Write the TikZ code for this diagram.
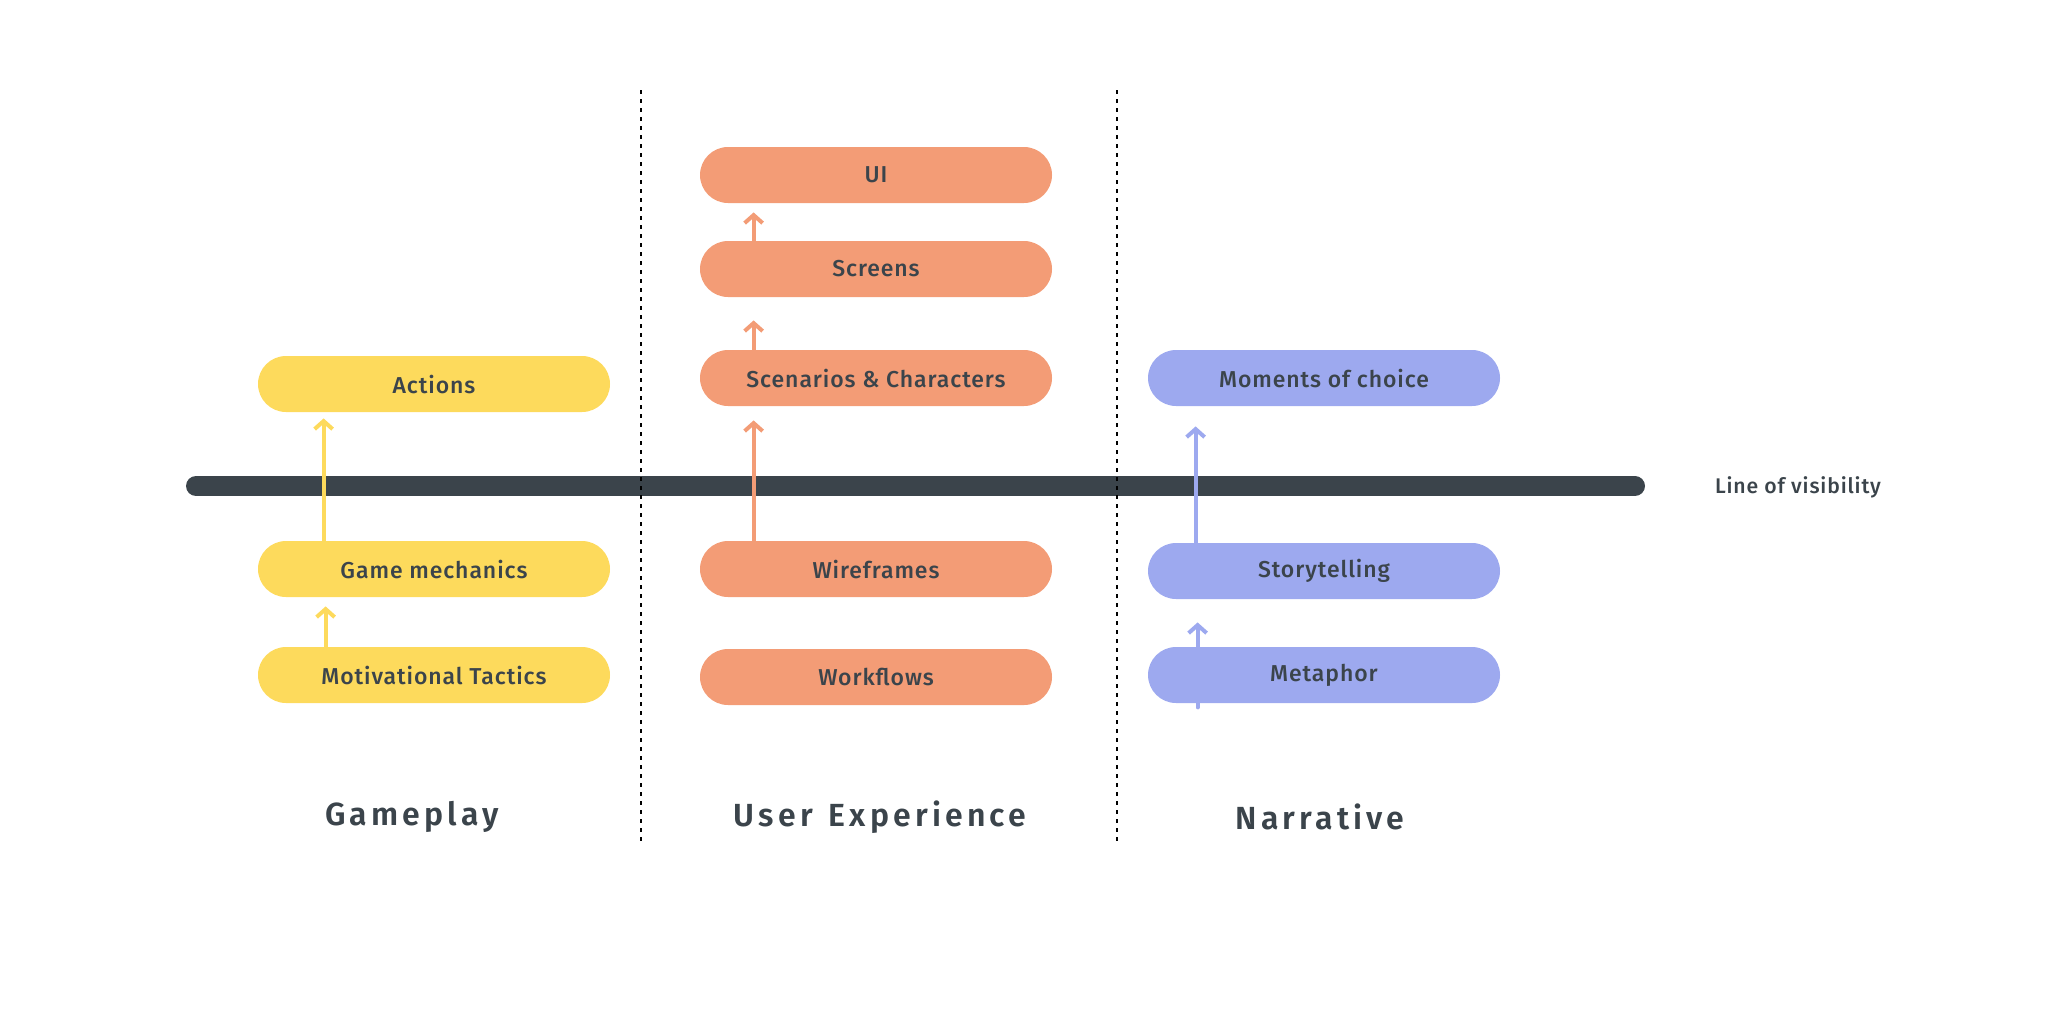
\documentclass[tikz,border=0pt]{standalone}
\usepackage{fontspec}
\setmainfont{Fira Sans}
\newfontfamily\catfont{Fira Sans SemiBold}[LetterSpace=13]
\newfontfamily\boxfont{Fira Sans Medium}[LetterSpace=4]
\usetikzlibrary{arrows.meta,backgrounds}
\definecolor{ink}{HTML}{3B444B}
\definecolor{gameyellow}{HTML}{FDDA5C}
\definecolor{uxorange}{HTML}{F39C76}
\definecolor{storypurple}{HTML}{9DA9EF}

\begin{document}
\begin{tikzpicture}[x=0.5pt,y=-0.5pt,
    pill/.style={rounded corners=14pt, minimum width=176pt, minimum height=28pt,
      inner sep=0pt, text=ink, font=\boxfont\fontsize{11.5}{14}\selectfont},
    up/.style={line width=2pt, line cap=round, -{Straight Barb[length=4pt,width=9pt]}},
    divider/.style={line width=1pt, dash pattern=on 2pt off 2.5pt},
    category/.style={text=ink, font=\catfont\fontsize{16}{18}\selectfont}]
  \useasboundingbox (0,0) rectangle (2072,1018);

  % columns
  \draw[divider] (641,90) -- (641,843);
  \draw[divider] (1117,90) -- (1117,843);

  % pills
  \foreach \t/\y/\nm in {Actions/384/act, Game mechanics/569/mech, Motivational Tactics/675/tact} {
    \node[pill, fill=gameyellow] (\nm) at (434,\y) {\t};
  }
  \foreach \t/\y/\nm in {UI/175/ui, Screens/269/scr, Scenarios \& Characters/378/scen, Wireframes/569/wire, Workflows/677/work} {
    \node[pill, fill=uxorange] (\nm) at (876,\y) {\t};
  }
  \foreach \t/\y/\nm in {Moments of choice/378/mom, Storytelling/571/story, Metaphor/675/meta} {
    \node[pill, fill=storypurple] (\nm) at (1324,\y) {\t};
  }

  % line of visibility and arrows
  \node[text=ink, font=\boxfont\fontsize{10.6}{12}\selectfont] (vis) at (1798,487) {Line of visibility};
  \begin{scope}[on background layer]
    \draw[ink, line width=10pt, line cap=round] (196,486) -- (1635,486);
    \foreach \a/\b/\dx/\gap in {mech/act/33/3, tact/mech/34/4.5} {
      \draw[up, gameyellow, shorten >=\gap pt] ([xshift=\dx pt]\a.north west) -- ([xshift=\dx pt]\b.south west);
    }
    \foreach \a/\b/\gap in {scr/ui/4.5, scen/scr/11.5, wire/scen/7} {
      \draw[up, uxorange, shorten >=\gap pt] ([xshift=27pt]\a.north west) -- ([xshift=27pt]\b.south west);
    }
    \draw[up, storypurple, shorten >=10pt] ([xshift=24pt]story.north west) -- ([xshift=24pt]mom.south west);
    \draw[up, storypurple, shorten <=-2pt, shorten >=11.5pt] ([xshift=25pt]meta.south west) -- ([xshift=25pt]story.south west);
  \end{scope}

  % categories
  \foreach \t/\x/\nm in {Gameplay/412/play, User\hspace{2pt} Experience/880/ux, Narrative/1320/narr} {
    \node[category] (\nm) at (\x,817) {\t};
  }
\end{tikzpicture}
\end{document}
